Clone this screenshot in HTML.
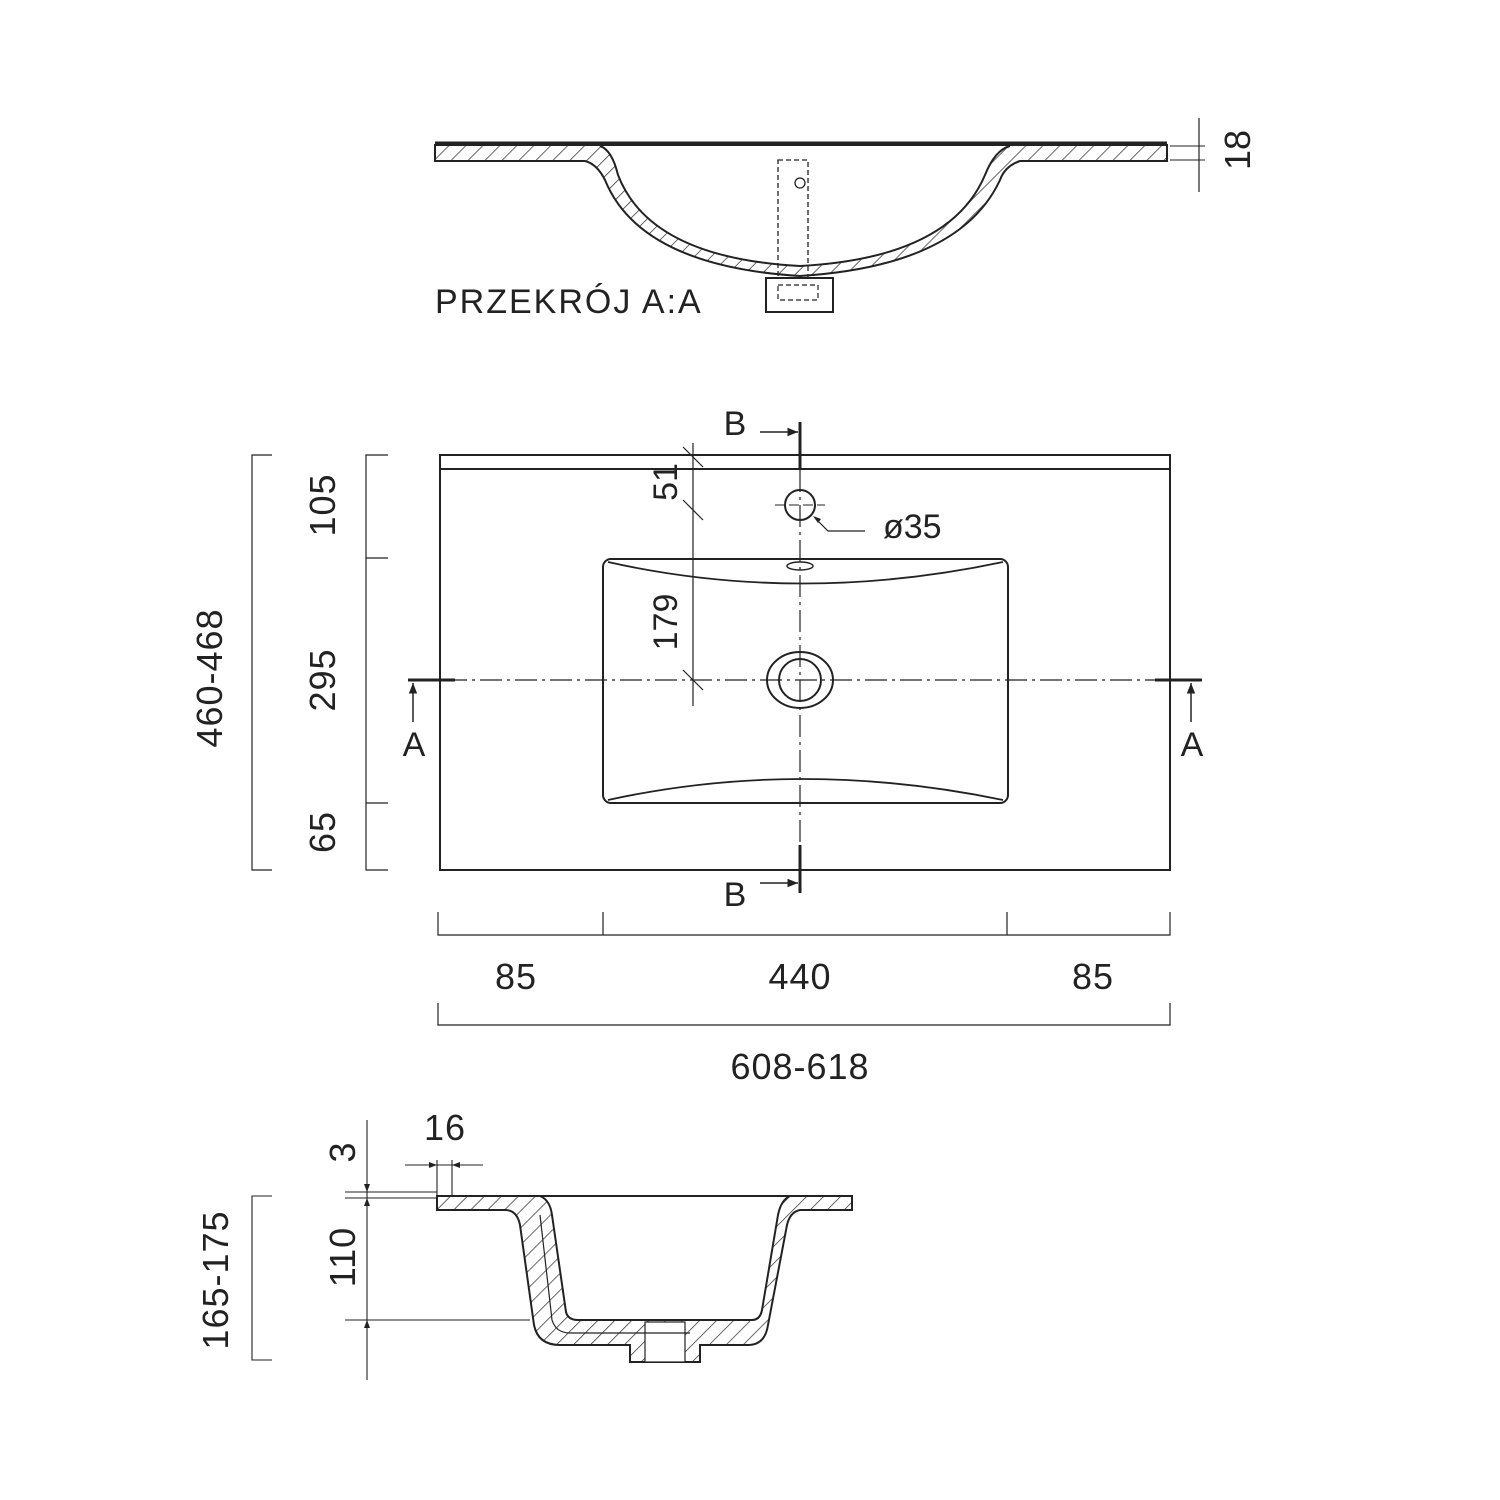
<!DOCTYPE html>
<html><head><meta charset="utf-8"><style>html,body{margin:0;padding:0;background:#fff}svg{display:block}</style></head>
<body>
<svg width="1500" height="1500" viewBox="0 0 1500 1500" xmlns="http://www.w3.org/2000/svg" font-family="Liberation Sans, sans-serif" fill="none" stroke="#222" stroke-width="2">
<defs>
<pattern id="h" width="12" height="12" patternUnits="userSpaceOnUse" patternTransform="rotate(45)">
<line x1="0" y1="0" x2="0" y2="12" stroke="#333" stroke-width="1.5"/>
</pattern>
<marker id="ar" viewBox="0 0 10 10" refX="10" refY="5" markerWidth="7" markerHeight="7" orient="auto-start-reverse"><path d="M0,1 L10,5 L0,9 z" fill="#222" stroke="none"/></marker>
</defs>

<!-- TOP SECTION A:A -->
<path d="M435,145 L1167,145 L1167,161 L1020,161 Q1005,166 1000,180 Q960,266 800,276 Q640,266 605,180 Q597,164 585,161 L435,161 Z" fill="url(#h)"/>
<path d="M600,146 Q612,150 618,175 Q650,258 800,266 Q950,258 985,175 Q995,150 1010,146" fill="#fff"/>
<line x1="435" y1="143" x2="1167" y2="143" stroke-width="3"/>
<rect x="778" y="160" width="30" height="120" stroke-dasharray="5,3" stroke-width="1.3"/>
<circle cx="800" cy="183" r="5" stroke-width="1.3"/>
<rect x="766" y="278" width="67" height="34" fill="#fff"/>
<rect x="778" y="285" width="40" height="15" stroke-dasharray="5,3" stroke-width="1.2"/>
<line x1="1199" y1="118" x2="1199" y2="192" stroke-width="1.2"/>
<line x1="1170" y1="146" x2="1205" y2="146" stroke-width="1"/>
<line x1="1170" y1="160" x2="1205" y2="160" stroke-width="1"/>
<text x="1250" y="150" transform="rotate(-90 1250 150)" font-size="36" fill="#222" stroke="none" text-anchor="middle">18</text>
<text x="435" y="313" font-size="34" letter-spacing="2" fill="#222" stroke="none">PRZEKRÓJ A:A</text>

<!-- PLAN VIEW -->
<rect x="440" y="455" width="730" height="415"/>
<line x1="440" y1="469" x2="1170" y2="469"/>
<rect x="603" y="559" width="405" height="244" rx="8"/>
<path d="M608,562 Q800,605 1003,562" stroke-width="1.8"/>
<path d="M608,800 Q800,758 1003,800" stroke-width="1.8"/>
<ellipse cx="800" cy="566" rx="13" ry="4" stroke-width="1.5"/>
<circle cx="800" cy="505" r="15"/>
<ellipse cx="800" cy="680" rx="33" ry="28"/>
<circle cx="800" cy="680" r="21"/>
<g stroke-width="1.2" stroke-dasharray="22,5,3,5">
<line x1="410" y1="680" x2="1200" y2="680"/>
<line x1="800" y1="470" x2="800" y2="850"/>
</g>
<line x1="775" y1="505" x2="825" y2="505" stroke-width="1" stroke-dasharray="10,4"/>
<!-- B marks -->
<line x1="800" y1="422" x2="800" y2="470" stroke-width="3"/>
<line x1="760" y1="432" x2="798" y2="432" stroke-width="1.5" marker-end="url(#ar)"/>
<text x="735" y="435" font-size="34" fill="#222" stroke="none" text-anchor="middle">B</text>
<line x1="800" y1="845" x2="800" y2="893" stroke-width="3"/>
<line x1="760" y1="883" x2="798" y2="883" stroke-width="1.5" marker-end="url(#ar)"/>
<text x="735" y="906" font-size="34" fill="#222" stroke="none" text-anchor="middle">B</text>
<!-- A marks -->
<line x1="408" y1="680" x2="455" y2="680" stroke-width="3"/>
<line x1="413" y1="722" x2="413" y2="683" stroke-width="1.5" marker-end="url(#ar)"/>
<text x="414" y="756" font-size="34" fill="#222" stroke="none" text-anchor="middle">A</text>
<line x1="1155" y1="680" x2="1202" y2="680" stroke-width="3"/>
<line x1="1191" y1="722" x2="1191" y2="683" stroke-width="1.5" marker-end="url(#ar)"/>
<text x="1192" y="756" font-size="34" fill="#222" stroke="none" text-anchor="middle">A</text>
<!-- 51/179 -->
<g stroke-width="1.2">
<line x1="693" y1="443" x2="693" y2="706"/>
<line x1="683" y1="447" x2="703" y2="467"/>
<line x1="683" y1="500" x2="703" y2="520"/>
<line x1="683" y1="670" x2="703" y2="690"/>
<path d="M815,518 L828,531 L865,531"/>
</g>
<path d="M813,516 l8,3 l-3,4 z" fill="#222" stroke="none"/>
<text x="677" y="482" transform="rotate(-90 677 482)" font-size="34" fill="#222" stroke="none" text-anchor="middle">51</text>
<text x="677" y="622" transform="rotate(-90 677 622)" font-size="34" fill="#222" stroke="none" text-anchor="middle">179</text>
<text x="883" y="538" font-size="34" fill="#222" stroke="none">ø35</text>
<!-- left dims -->
<g stroke-width="1.2">
<path d="M272,455 L252,455 L252,870 L272,870"/>
<path d="M388,455 L366,455 L366,870 L388,870 M366,558 L388,558 M366,803 L388,803"/>
<path d="M438,912 L438,935 L1170,935 L1170,912 M603,912 L603,935 M1007,912 L1007,935"/>
<path d="M438,1003 L438,1025 L1170,1025 L1170,1003"/>
</g>
<g fill="#222" stroke="none" font-size="36" text-anchor="middle" letter-spacing="1">
<text x="222" y="678" transform="rotate(-90 222 678)">460-468</text>
<text x="335" y="505" transform="rotate(-90 335 505)">105</text>
<text x="335" y="680" transform="rotate(-90 335 680)">295</text>
<text x="335" y="832" transform="rotate(-90 335 832)">65</text>
<text x="516" y="989">85</text>
<text x="800" y="989">440</text>
<text x="1093" y="989">85</text>
<text x="800" y="1079">608-618</text>
</g>

<!-- BOTTOM SECTION B:B -->
<path d="M437,1196 L852,1196 L852,1210 L800,1210 Q790,1212 787,1225 L768,1325 Q765,1345 748,1345 L700,1345 L700,1362 L630,1362 L630,1345 L560,1345 Q538,1345 534,1325 L520,1225 Q517,1210 505,1210 L437,1210 Z" fill="url(#h)"/>
<path d="M540,1196 Q550,1200 552,1215 L566,1312 Q568,1320 578,1320 L752,1320 Q760,1320 762,1310 L778,1215 Q781,1200 790,1196" fill="#fff"/>
<line x1="437" y1="1196" x2="852" y2="1196"/>
<rect x="645" y="1322" width="40" height="40" fill="#fff" stroke-width="1.2"/>
<path d="M540,1215 L552,1320 Q556,1333 570,1333 L690,1333" stroke-width="1.2"/>
<g stroke-width="1.1">
<line x1="367" y1="1120" x2="367" y2="1380"/>
<line x1="345" y1="1192" x2="437" y2="1192"/>
<line x1="345" y1="1198" x2="437" y2="1198"/>
<line x1="345" y1="1320" x2="530" y2="1320"/>
<line x1="405" y1="1165" x2="483" y2="1165"/>
<line x1="437" y1="1160" x2="437" y2="1196"/>
<line x1="452" y1="1160" x2="452" y2="1196"/>
<path d="M272,1196 L252,1196 L252,1360 L272,1360"/>
</g>
<path d="M437,1165 l-8,-3 l0,6 z M452,1165 l8,-3 l0,6 z M367,1192 l-3,-8 l6,0 z M367,1198 l-3,8 l6,0 z M367,1320 l-3,8 l6,0 z" fill="#222" stroke="none"/>
<g fill="#222" stroke="none" font-size="36" text-anchor="middle" letter-spacing="1">
<text x="355" y="1152" transform="rotate(-90 355 1152)">3</text>
<text x="355" y="1257" transform="rotate(-90 355 1257)">110</text>
<text x="445" y="1140">16</text>
<text x="228" y="1280" transform="rotate(-90 228 1280)">165-175</text>
</g>
</svg>
</body></html>
